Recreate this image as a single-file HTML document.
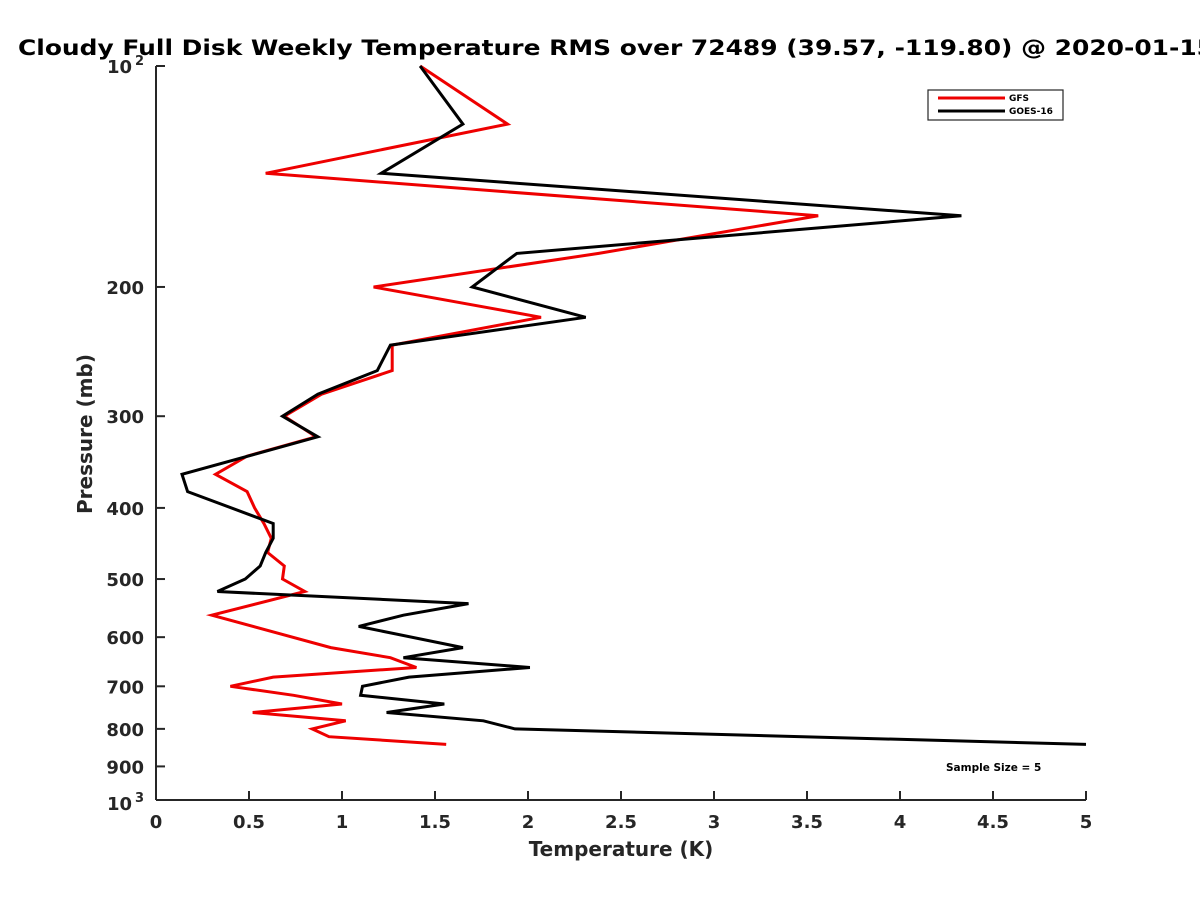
<!DOCTYPE html>
<html><head><meta charset="utf-8"><style>
body{margin:0;background:#fff;}
svg{display:block;font-family:"DejaVu Sans","Liberation Sans",sans-serif;font-weight:bold;}
</style></head><body>
<svg id="chart" width="1200" height="900" viewBox="0 0 1200 900" xmlns="http://www.w3.org/2000/svg">
<rect width="1200" height="900" fill="#fff"/>
<text x="18" y="55" font-size="21" fill="#000" textLength="1196" lengthAdjust="spacingAndGlyphs">Cloudy Full Disk Weekly Temperature RMS over 72489 (39.57, -119.80) @ 2020-01-15</text>
<g id="axes"></g>
<g id="series"></g>
<text x="621" y="856" font-size="20" fill="#262626" text-anchor="middle">Temperature (K)</text>
<text transform="translate(92,434) rotate(-90)" font-size="20" fill="#262626" text-anchor="middle">Pressure (mb)</text>
<g>
<rect x="928" y="90" width="135" height="30" fill="#fff" stroke="#262626" stroke-width="1.2"/>
<line x1="938" y1="98" x2="1005" y2="98" stroke="#e00" stroke-width="3"/>
<line x1="938" y1="111" x2="1005" y2="111" stroke="#000" stroke-width="3"/>
<text x="1009" y="101" font-size="9">GFS</text>
<text x="1009" y="114" font-size="9">GOES-16</text>
</g>
<text x="946" y="771" font-size="10.5">Sample Size = 5</text>
</svg>
<script>
const pressures = [100,120,140,160,180,200,220,240,260,280,300,320,340,360,380,400,420,440,460,480,500,520,540,560,580,600,620,640,660,680,700,720,740,760,780,800,820,840];
const gfsP = [100,120,140,160,180,200,220,240,260,280,300,320,340,360,380,400,420,440,460,480,500,520,560,620,640,660,680,700,720,740,760,780,800,820,840];
const gfsT = [1.42,1.89,0.59,3.56,2.38,1.17,2.07,1.27,1.27,0.89,0.69,0.86,0.49,0.32,0.49,0.53,0.58,0.62,0.60,0.69,0.68,0.80,0.30,0.94,1.26,1.40,0.63,0.40,0.74,1.00,0.52,1.02,0.84,0.93,1.56];
const goesP = [100,120,140,160,180,200,220,240,260,280,300,320,360,380,420,440,460,480,500,520,540,560,580,620,640,660,680,700,720,740,760,780,800,840];
const goesT = [1.42,1.65,1.21,4.33,1.94,1.70,2.31,1.26,1.19,0.87,0.68,0.87,0.14,0.17,0.63,0.63,0.59,0.56,0.48,0.33,1.68,1.33,1.09,1.65,1.33,2.01,1.36,1.11,1.10,1.55,1.24,1.76,1.93,5.0];
const xTicks = [0,0.5,1,1.5,2,2.5,3,3.5,4,4.5,5];
const yTicks = [200,300,400,500,600,700,800,900];

const NS="http://www.w3.org/2000/svg";
const X0=156,X1=1086,Y0=66,Y1=800,TMAX=5;
function xs(t){return X0+(t/TMAX)*(X1-X0);}
function ys(p){return Y0+(Math.log10(p)-2)*(Y1-Y0);}
function mk(tag,attrs,parent){const e=document.createElementNS(NS,tag);for(const k in attrs)e.setAttribute(k,attrs[k]);parent.appendChild(e);return e;}
const axes=document.getElementById('axes');
const ser=document.getElementById('series');
const ax=mk('line',{x1:X0,y1:Y0,x2:X0,y2:Y1,stroke:'#262626','stroke-width':2},axes);


const bx=mk('line',{x1:X0,y1:Y1,x2:X1,y2:Y1,stroke:'#262626','stroke-width':2},axes);


xTicks.forEach(t=>{
  const l=mk('line',{x1:xs(t),y1:Y1,x2:xs(t),y2:Y1-9,stroke:'#262626','stroke-width':2},axes);
  
  
  const tx=mk('text',{x:xs(t),y:Y1+28,'font-size':18,fill:'#262626','text-anchor':'middle'},axes);
  tx.textContent=String(t);
  
  
});
[100].concat(yTicks,[1000]).forEach(p=>{
  const l=mk('line',{x1:X0,y1:ys(p),x2:X0+9,y2:ys(p),stroke:'#262626','stroke-width':2},axes);
  
  
});
yTicks.forEach(p=>{
  const tx=mk('text',{x:X0-12,y:ys(p)+7,'font-size':18,fill:'#262626','text-anchor':'end'},axes);
  tx.textContent=String(p);
  
  
});
[[100,'2'],[1000,'3']].forEach(([p,e])=>{
  const tx=mk('text',{x:X0-24,y:ys(p)+(p===100?7:10),'font-size':18,fill:'#262626','text-anchor':'end'},axes);
  tx.textContent='10';
  
  
  const sp=mk('text',{x:X0-12,y:ys(p)+(p===100?-1:2),'font-size':13,fill:'#262626','text-anchor':'end'},axes);
  sp.textContent=e;
  
  
});
function line(P,T,color,name){
  const pts=P.map((p,i)=>xs(Math.min(T[i],TMAX)).toFixed(1)+','+ys(p).toFixed(1)).join(' ');
  const pl=mk('polyline',{points:pts,fill:'none',stroke:color,'stroke-width':3,'stroke-linejoin':'miter'},ser);
  
  
}
line(gfsP,gfsT,'#e00','gfs-line');
line(goesP,goesT,'#000','goes16-line');
</script>
</body></html>
